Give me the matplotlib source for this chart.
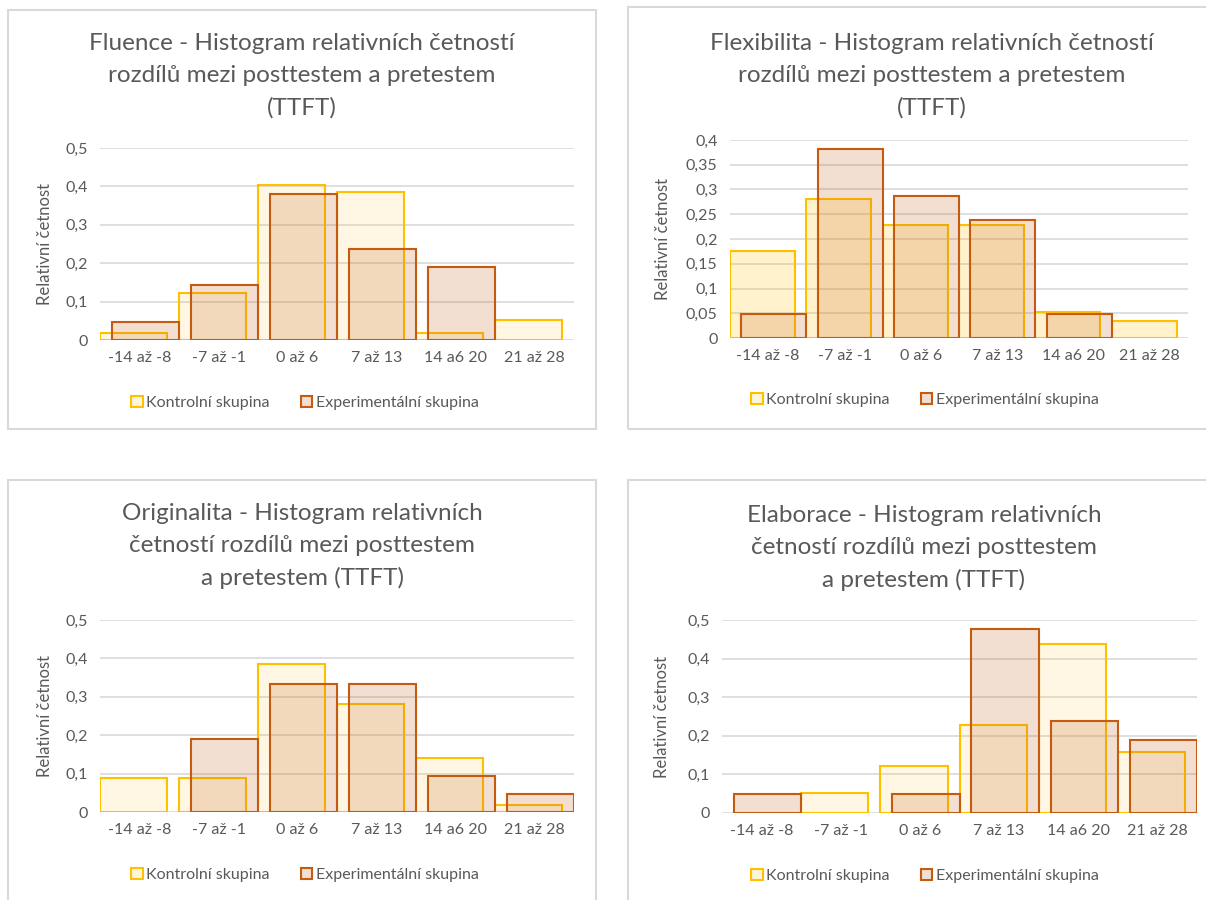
import numpy as np
import matplotlib
matplotlib.use('Agg')
import matplotlib.pyplot as plt
from matplotlib.patches import Rectangle, Patch

plt.rcParams['font.family'] = ['Lato', 'DejaVu Sans']

categories = ['-14 až -8', '-7 až -1', '0 až 6', '7 až 13', '14 a6 20', '21 až 28']
series_names = ['Kontrolní skupina', 'Experimentální skupina']

fluence_kontrol = [0.018, 0.123, 0.404, 0.386, 0.018, 0.053]
fluence_exper = [0.048, 0.143, 0.381, 0.238, 0.190, 0.0]
flex_kontrol = [0.175, 0.281, 0.228, 0.228, 0.053, 0.035]
flex_exper = [0.048, 0.381, 0.286, 0.238, 0.048, 0.0]
orig_kontrol = [0.088, 0.088, 0.386, 0.281, 0.140, 0.018]
orig_exper = [0.0, 0.190, 0.333, 0.333, 0.095, 0.048]
elab_kontrol = [0.0, 0.053, 0.123, 0.228, 0.439, 0.158]
elab_exper = [0.048, 0.0, 0.048, 0.476, 0.238, 0.190]

titles = [
    ['Fluence - Histogram relativních četností', 'rozdílů mezi posttestem a pretestem', '(TTFT)'],
    ['Flexibilita - Histogram relativních četností', 'rozdílů mezi posttestem a pretestem', '(TTFT)'],
    ['Originalita - Histogram relativních', 'četností rozdílů mezi posttestem', 'a pretestem (TTFT)'],
    ['Elaborace - Histogram relativních', 'četností rozdílů mezi posttestem', 'a pretestem (TTFT)'],
]

W, H = 1206, 900
TXT = '#595959'
GRID = '#D9D9D9'
K_EDGE = '#FFC000'
E_EDGE = '#C55A11'

# panel layout in pixels: frame box, axes box, title center, legend center, ylabel x
panels = [
    dict(k=fluence_kontrol, e=fluence_exper, ymax=0.5, step=0.1, frame=(8, 10, 596, 429),
         ax=(100, 148, 574, 340), tc=302, ty=44, lx=305, ly=403, yl=45, kalpha=0.11),
    dict(k=flex_kontrol, e=flex_exper, ymax=0.4, step=0.05, frame=(628, 7, 1220, 429),
         ax=(730, 140, 1188, 338), tc=932, ty=44, lx=925, ly=400, yl=663, kalpha=0.2),
    dict(k=orig_kontrol, e=orig_exper, ymax=0.5, step=0.1, frame=(8, 480, 596, 920),
         ax=(100, 620, 574, 812), tc=302, ty=514, lx=305, ly=875, yl=45, kalpha=0.11),
    dict(k=elab_kontrol, e=elab_exper, ymax=0.5, step=0.1, frame=(628, 480, 1220, 920),
         ax=(722, 620, 1197, 813), tc=924, ty=516, lx=925, ly=876, yl=662, kalpha=0.11),
]

fig = plt.figure(figsize=(W / 100, H / 100), dpi=100)

x = np.arange(len(categories))
bw = 0.85
for p, ttl in zip(panels, titles):
    fx0, fy0, fx1, fy1 = p['frame']
    fig.patches.append(Rectangle((fx0 / W, 1 - fy1 / H), (fx1 - fx0) / W, (fy1 - fy0) / H,
                                 transform=fig.transFigure, fill=False, edgecolor=GRID, lw=1.5))
    x0, y0, x1, y1 = p['ax']
    ax = fig.add_axes([x0 / W, 1 - y1 / H, (x1 - x0) / W, (y1 - y0) / H])

    kb = ax.bar(x - 0.075, p['k'], width=bw, facecolor=(1, 0.75, 0, p['kalpha']),
                edgecolor=K_EDGE, lw=1.5, zorder=2)
    eb = ax.bar(x + 0.075, p['e'], width=bw, facecolor=(0.77, 0.35, 0.07, 0.19),
                edgecolor=E_EDGE, lw=1.5, zorder=3)
    for bars in (kb, eb):
        for b in bars:
            if b.get_height() == 0:
                b.set_visible(False)

    ax.set_xlim(-0.5, len(categories) - 0.5)
    ax.set_ylim(0, p['ymax'])
    ticks = np.arange(0, p['ymax'] + 1e-9, p['step'])
    ax.set_yticks(ticks)
    ax.set_yticklabels([f'{t:.2f}'.rstrip('0').rstrip('.').replace('.', ',') if t > 0 else '0'
                        for t in ticks])
    ax.set_xticks(x)
    ax.set_xticklabels(categories)
    ax.tick_params(length=0, colors=TXT, labelsize=11.5)
    ax.tick_params(axis='y', pad=9)
    ax.tick_params(axis='x', pad=8)
    ax.grid(axis='y', color=GRID, lw=1.2, zorder=0)
    ax.set_axisbelow(True)
    for s in ax.spines.values():
        s.set_visible(False)

    for i, line in enumerate(ttl):
        fig.text(p['tc'] / W, 1 - (p['ty'] + 32 * i) / H, line, ha='center', va='center',
                 fontsize=17.5, color=TXT)

    fig.text(p['yl'] / W, 1 - ((y0 + y1) / 2) / H, 'Relativní četnost', rotation=90,
             ha='center', va='center', fontsize=12, color=TXT)

    handles = [Patch(facecolor=(1, 0.75, 0, 0.15), edgecolor=K_EDGE, lw=1.5),
               Patch(facecolor=(0.77, 0.35, 0.07, 0.19), edgecolor=E_EDGE, lw=1.5)]
    fig.legend(handles, series_names, loc='center', bbox_to_anchor=(p['lx'] / W, 1 - p['ly'] / H),
               ncol=2, frameon=False, fontsize=11.5, labelcolor=TXT,
               handlelength=0.7, handleheight=0.7, handletextpad=0.2, columnspacing=2.0)

fig.savefig('out.png', dpi=100)
